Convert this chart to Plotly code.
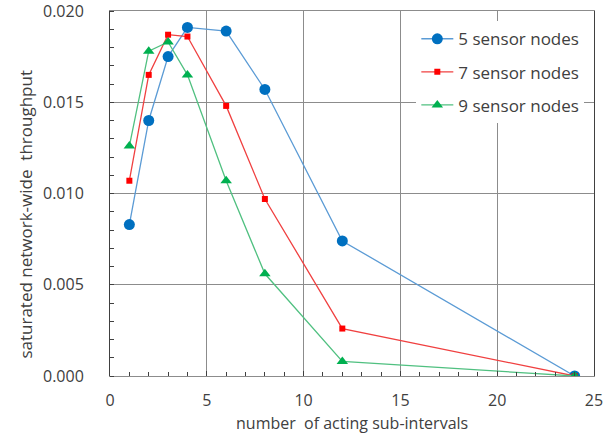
import plotly.graph_objects as go

x_vals = [1, 2, 3, 4, 6, 8, 12, 24]
nodes5 = [0.0083, 0.0140, 0.0175, 0.0191, 0.0189, 0.0157, 0.0074, 0.0000]
nodes7 = [0.0107, 0.0165, 0.0187, 0.0186, 0.0148, 0.0097, 0.0026, 0.0000]
nodes9 = [0.0126, 0.0178, 0.0183, 0.0165, 0.0107, 0.0056, 0.0008, 0.0000]
names = ["5 sensor nodes", "7 sensor nodes", "9 sensor nodes"]
y_ticks = [0.0, 0.005, 0.010, 0.015, 0.020]
y_ticktext = ["0.000", "0.005", "0.010", "0.015", "0.020"]

font_fam = "Open Sans, Noto Sans, sans-serif"
txt = "#404040"

fig = go.Figure()
fig.add_trace(go.Scatter(x=x_vals, y=nodes5, name=names[0], mode="lines+markers", legendgroup="a",
                         line=dict(color="#5B9BD5", width=1.3),
                         marker=dict(symbol="circle", size=11, color="#0070C0")))
fig.add_trace(go.Scatter(x=x_vals, y=nodes7, name=names[1], mode="lines+markers", legendgroup="b",
                         line=dict(color="#F04040", width=1.3),
                         marker=dict(symbol="square", size=6, color="#FF0000")))
fig.add_trace(go.Scatter(x=x_vals, y=nodes9, name=names[2], mode="lines+markers", legendgroup="c",
                         line=dict(color="#50C080", width=1.3),
                         marker=dict(symbol="triangle-up", size=10, color="#00B050")))

fig.update_layout(
    width=611, height=436,
    margin=dict(l=110, r=17, t=11, b=60),
    paper_bgcolor="white", plot_bgcolor="white",
    font=dict(family=font_fam, size=14, color=txt),
    showlegend=True,
    legend=dict(x=0.98, y=0.972, xanchor="right", yanchor="top",
                bgcolor="white", borderwidth=0, traceorder="grouped",
                font=dict(size=17, color=txt), tracegroupgap=8, itemwidth=32),
    xaxis=dict(range=[0, 25], dtick=5, tick0=0, showgrid=True, gridcolor="#8c8c8c", gridwidth=1,
               showline=True, linecolor="#8c8c8c", linewidth=1, mirror=True,
               ticks="inside", ticklen=5, tickcolor="#404040", zeroline=False,
               ticklabelstandoff=10, automargin=False,
               minor=dict(dtick=1, ticks="inside", ticklen=4, tickcolor="#404040", showgrid=False),
               tickfont=dict(size=16, color=txt)),
    yaxis=dict(range=[0, 0.02], tickmode="array", tickvals=y_ticks, ticktext=y_ticktext,
               ticklabeloverflow="allow", showgrid=True, automargin=False,
               gridcolor="#8c8c8c", gridwidth=1,
               showline=True, linecolor="#404040", linewidth=1, mirror=True,
               ticks="", zeroline=False, ticklabelstandoff=22,
               minor=dict(tickmode="linear", tick0=0, dtick=0.001, ticks="inside", ticklen=4,
                          tickcolor="#404040", showgrid=False),
               tickfont=dict(size=16, color=txt)),
    annotations=[
        dict(text="saturated network-wide  throughput", xref="paper", yref="paper",
             x=-0.1736, y=0.445, textangle=-90, showarrow=False,
             font=dict(size=17, color=txt), xanchor="center", yanchor="middle"),
        dict(text="number  of acting sub-intervals", xref="paper", yref="paper",
             x=0.5, y=-0.164, showarrow=False,
             font=dict(size=16, color=txt), xanchor="center", yanchor="bottom"),
    ],
)

fig.write_html("out.html")
